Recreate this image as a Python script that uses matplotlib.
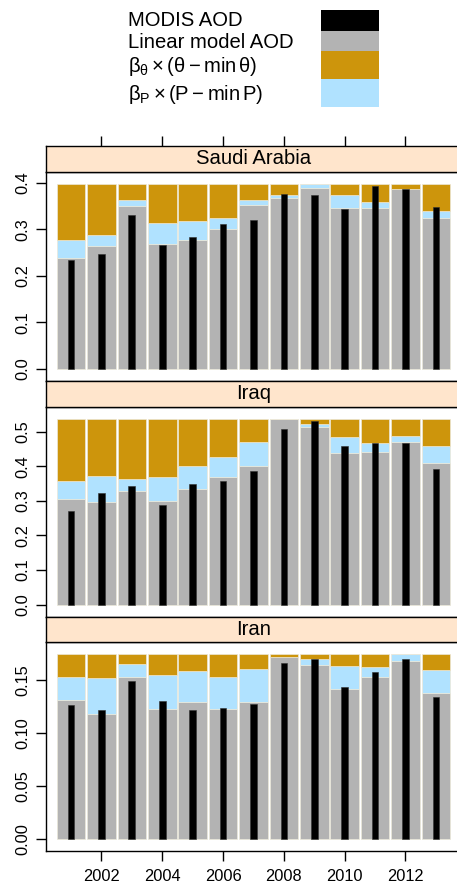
import numpy as np
import matplotlib
matplotlib.use("Agg")
import matplotlib.pyplot as plt
from matplotlib.patches import Rectangle

plt.rcParams["font.family"] = ["Liberation Sans", "DejaVu Sans"]
plt.rcParams["mathtext.fontset"] = "custom"
plt.rcParams["mathtext.rm"] = "Liberation Sans"
plt.rcParams["mathtext.it"] = "Liberation Sans"
plt.rcParams["mathtext.bf"] = "Liberation Sans:bold"
plt.rcParams["mathtext.sf"] = "Liberation Sans"

years = list(range(2001, 2014))
countries = ["Saudi Arabia", "Iraq", "Iran"]

# Saudi Arabia
sa_modis = [0.233, 0.246, 0.330, 0.267, 0.283, 0.312, 0.321, 0.376, 0.375, 0.343, 0.393, 0.388, 0.349]
sa_model = [0.239, 0.265, 0.351, 0.269, 0.277, 0.300, 0.353, 0.367, 0.390, 0.347, 0.347, 0.386, 0.324]
sa_precip = [0.039, 0.023, 0.013, 0.045, 0.040, 0.024, 0.010, 0.006, 0.008, 0.028, 0.013, 0.001, 0.015]
sa_theta = [0.120, 0.110, 0.034, 0.084, 0.081, 0.074, 0.035, 0.025, 0.000, 0.023, 0.038, 0.011, 0.059]

# Iraq
iq_modis = [0.270, 0.322, 0.344, 0.289, 0.349, 0.358, 0.386, 0.507, 0.529, 0.458, 0.468, 0.468, 0.393]
iq_model = [0.306, 0.297, 0.329, 0.300, 0.335, 0.369, 0.400, 0.535, 0.513, 0.439, 0.442, 0.470, 0.408]
iq_precip = [0.052, 0.074, 0.034, 0.070, 0.066, 0.056, 0.069, 0.000, 0.009, 0.045, 0.026, 0.016, 0.049]
iq_theta = [0.177, 0.164, 0.172, 0.165, 0.134, 0.110, 0.066, 0.000, 0.013, 0.051, 0.067, 0.049, 0.078]

# Iran
ir_modis = [0.1267, 0.1217, 0.1491, 0.1308, 0.1223, 0.1235, 0.1280, 0.1661, 0.1705, 0.1434, 0.1582, 0.1705, 0.1343]
ir_model = [0.1314, 0.1185, 0.1532, 0.1232, 0.1292, 0.1229, 0.1298, 0.1721, 0.1642, 0.1421, 0.1535, 0.1686, 0.1380]
ir_precip = [0.0215, 0.0337, 0.0126, 0.0315, 0.0293, 0.0300, 0.0309, 0.0000, 0.0057, 0.0215, 0.0088, 0.0060, 0.0218]
ir_theta = [0.0217, 0.0224, 0.0088, 0.0199, 0.0161, 0.0217, 0.0139, 0.0025, 0.0047, 0.0110, 0.0123, 0.0000, 0.0148]

y_ticks = {
    "Saudi Arabia": ([0.0, 0.1, 0.2, 0.3, 0.4], ["0.0", "0.1", "0.2", "0.3", "0.4"]),
    "Iraq": ([0.0, 0.1, 0.2, 0.3, 0.4, 0.5], ["0.0", "0.1", "0.2", "0.3", "0.4", "0.5"]),
    "Iran": ([0.00, 0.05, 0.10, 0.15], ["0.00", "0.05", "0.10", "0.15"]),
}
x_ticks = [2002, 2004, 2006, 2008, 2010, 2012]

series = {
    "Saudi Arabia": (sa_modis, sa_model, sa_precip, sa_theta),
    "Iraq": (iq_modis, iq_model, iq_precip, iq_theta),
    "Iran": (ir_modis, ir_model, ir_precip, ir_theta),
}

legend_labels = [
    "MODIS AOD",
    "Linear model AOD",
    r"$\beta_{\theta}\times(\theta - \min\,\theta)$",
    r"$\beta_{P}\times(P - \min\,P)$",
]

C_MODIS = "#000000"
C_MODEL = "#B3B3B3"
C_THETA = "#CD950C"
C_PRECIP = "#B0E2FF"
C_STRIP = "#FFE5CC"
C_EDGE = "#ECE8D8"

W, H = 457, 884
fig = plt.figure(figsize=(W / 100, H / 100), dpi=100)


def fx(px):
    return px / W


def fy(py):
    return 1 - py / H


left_px, right_px = 45.5, 461.4
panels_px = [(171.5, 381.0), (407.0, 617.0), (642.0, 851.0)]
strips_px = [(146.0, 171.5), (381.0, 407.0), (617.0, 642.0)]
xlim = (2000.16, 2013.84)
fs_big = 14.6
fs_tick = 11.8
tick_len = 7.2

for i, name in enumerate(countries):
    modis, model, precip, theta = [np.asarray(a, dtype=float) for a in series[name]]
    top_px, bot_px = panels_px[i]
    ax = fig.add_axes([fx(left_px), fy(bot_px), fx(right_px - left_px), (bot_px - top_px) / H])
    x = np.asarray(years, dtype=float)
    ax.bar(x, model, width=0.94, color=C_MODEL, edgecolor=C_EDGE, linewidth=0.5, zorder=2)
    ax.bar(x, precip, bottom=model, width=0.94, color=C_PRECIP, edgecolor=C_EDGE, linewidth=0.5, zorder=2)
    ax.bar(x, theta, bottom=model + precip, width=0.94, color=C_THETA, edgecolor=C_EDGE, linewidth=0.5, zorder=2)
    ax.bar(x, modis, width=0.22, color=C_MODIS, edgecolor="#333333", linewidth=0.4, zorder=3)

    total = float(np.max(model + precip + theta))
    pad = 0.067 * total
    ax.set_ylim(-pad, total + pad)
    ax.set_xlim(*xlim)

    ticks, labels = y_ticks[name]
    ax.set_yticks(ticks)
    ax.set_yticklabels(labels, fontsize=fs_tick, rotation=90, va="center")
    ax.tick_params(axis="y", direction="out", length=tick_len, width=1.0, pad=3.9, left=True, right=False)

    if i == len(countries) - 1:
        ax.set_xticks(x_ticks)
        ax.set_xticklabels([str(t) for t in x_ticks], fontsize=fs_tick)
        ax.tick_params(axis="x", direction="out", length=tick_len, width=1.0, pad=5.6)
    else:
        ax.set_xticks([])
    for sp in ax.spines.values():
        sp.set_linewidth(1.0)

    s_top, s_bot = strips_px[i]
    sax = fig.add_axes([fx(left_px), fy(s_bot), fx(right_px - left_px), (s_bot - s_top) / H])
    sax.set_facecolor(C_STRIP)
    sax.set_xlim(*xlim)
    sax.set_yticks([])
    if i == 0:
        sax.set_xticks(x_ticks)
        sax.tick_params(axis="x", direction="out", length=tick_len, width=1.0, top=True, bottom=False,
                        labeltop=False, labelbottom=False)
    else:
        sax.set_xticks([])
    for sp in sax.spines.values():
        sp.set_linewidth(1.0)
    sax.text(0.5, 0.5, name, transform=sax.transAxes, ha="center", va="center", fontsize=fs_big)

# Legend: labels on the left, colour keys stacked on the right
legend_colors = [C_MODIS, C_MODEL, C_THETA, C_PRECIP]
text_y = [20.7, 42.3, 66.7, 94.0]
box_edges = [10.0, 30.7, 50.7, 79.0, 106.7]
for k, (lab, col) in enumerate(zip(legend_labels, legend_colors)):
    fig.text(fx(128.3), fy(text_y[k]), lab, ha="left", va="center", fontsize=fs_big)
    y0, y1 = box_edges[k], box_edges[k + 1]
    fig.patches.append(Rectangle((fx(321.0), fy(y1)), fx(378.7 - 321.0), (y1 - y0) / H,
                                 transform=fig.transFigure, facecolor=col, edgecolor="none"))

fig.savefig("out.png", dpi=100)
